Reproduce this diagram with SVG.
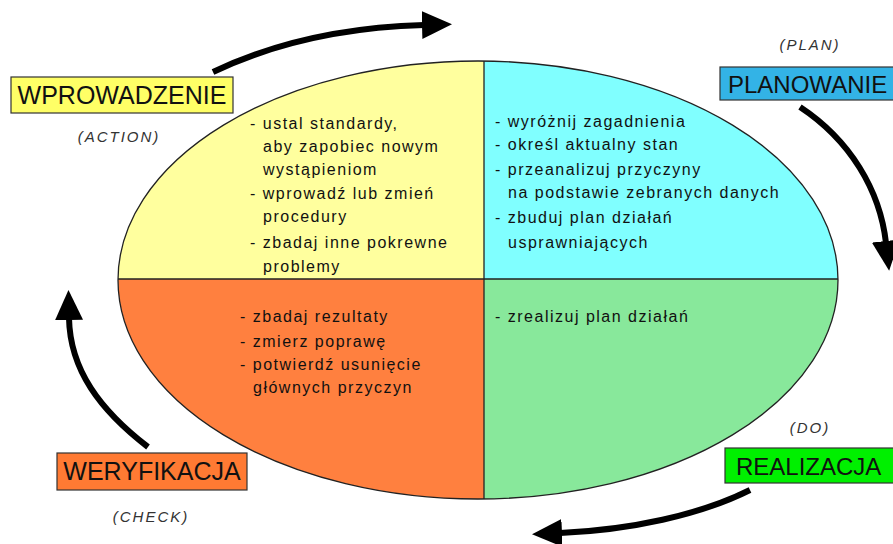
<svg xmlns="http://www.w3.org/2000/svg" width="893" height="544" viewBox="0 0 893 544">
<style>
.t{font-family:"Liberation Sans",Arial,sans-serif;font-size:16px;letter-spacing:1.5px;fill:#111}
.lbl{font-family:"Liberation Sans",Arial,sans-serif;font-size:25px;fill:#111}
.it{font-family:"Liberation Sans",Arial,sans-serif;font-size:15px;font-style:italic;letter-spacing:2px;fill:#333}
.box{stroke:#333;stroke-width:1.2}
.arr{fill:none;stroke:#000;stroke-width:6}
</style>
<defs>
<clipPath id="ec"><ellipse cx="478" cy="280" rx="360" ry="219"/></clipPath>
<marker id="ah" markerUnits="userSpaceOnUse" markerWidth="32" markerHeight="30" refX="2" refY="14" orient="auto" viewBox="0 0 32 30">
<path d="M0,0 L30,14 L0,28 z" fill="#000"/>
</marker>
</defs>
<g id="ellipse">
<g clip-path="url(#ec)">
<rect x="100" y="50" width="384" height="229" fill="#FFFF9E"/>
<rect x="484" y="50" width="370" height="229" fill="#80FFFF"/>
<rect x="100" y="279" width="384" height="230" fill="#FF803F"/>
<rect x="484" y="279" width="370" height="230" fill="#88E89B"/>
</g>
<ellipse cx="478" cy="280" rx="360" ry="219" fill="none" stroke="#222" stroke-width="1.3"/>
<line x1="484" y1="61" x2="484" y2="499" stroke="#222" stroke-width="1.3"/>
<line x1="118" y1="279" x2="838" y2="279" stroke="#222" stroke-width="1.3"/>
</g>
<g id="action-text">
<text class="t" x="250" y="129">- ustal standardy,</text>
<text class="t" x="263" y="152">aby zapobiec nowym</text>
<text class="t" x="263" y="175">wystąpieniom</text>
<text class="t" x="250" y="199">- wprowadź lub zmień</text>
<text class="t" x="263" y="222">procedury</text>
<text class="t" x="250" y="248">- zbadaj inne pokrewne</text>
<text class="t" x="263" y="272">problemy</text>
</g>
<g id="plan-text">
<text class="t" x="495" y="127">- wyróżnij zagadnienia</text>
<text class="t" x="495" y="150">- określ aktualny stan</text>
<text class="t" x="495" y="175">- przeanalizuj przyczyny</text>
<text class="t" x="508" y="198">na podstawie zebranych danych</text>
<text class="t" x="495" y="223">- zbuduj plan działań</text>
<text class="t" x="508" y="248">usprawniających</text>
</g>
<g id="check-text">
<text class="t" x="240" y="322">- zbadaj rezultaty</text>
<text class="t" x="240" y="347">- zmierz poprawę</text>
<text class="t" x="240" y="370">- potwierdź usunięcie</text>
<text class="t" x="253" y="393">głównych przyczyn</text>
</g>
<g id="do-text">
<text class="t" x="495" y="322">- zrealizuj plan działań</text>
</g>
<g id="wprowadzenie">
<rect class="box" x="11" y="77" width="222" height="36" fill="#FFFF66"/>
<text class="lbl" x="122" y="104" text-anchor="middle">WPROWADZENIE</text>
<text class="it" x="119" y="142" text-anchor="middle">(ACTION)</text>
</g>
<g id="planowanie">
<rect class="box" x="720" y="67" width="180" height="33" fill="#33B3E6"/>
<text class="lbl" x="728" y="93" style="font-size:24px">PLANOWANIE</text>
<text class="it" x="810" y="50" text-anchor="middle">(PLAN)</text>
</g>
<g id="weryfikacja">
<rect class="box" x="57" y="453" width="190" height="37" fill="#FF7A33"/>
<text class="lbl" x="152" y="480" text-anchor="middle">WERYFIKACJA</text>
<text class="it" x="151" y="522" text-anchor="middle">(CHECK)</text>
</g>
<g id="realizacja">
<rect class="box" x="725" y="448" width="175" height="35" fill="#00F000"/>
<text class="lbl" x="736" y="475" style="font-size:24px">REALIZACJA</text>
<text class="it" x="810" y="433" text-anchor="middle">(DO)</text>
</g>
<g id="connectors">
<path class="arr" d="M213,72 C280,40 350,27 424,25" marker-end="url(#ah)"/>
<path class="arr" d="M800,107 C850,140 880,190 886,243" marker-end="url(#ah)"/>
<path class="arr" d="M750,490 C700,515 630,530 560,533" marker-end="url(#ah)"/>
<path class="arr" d="M148,447 C100,410 70,370 69,318" marker-end="url(#ah)"/>
</g>
</svg>
